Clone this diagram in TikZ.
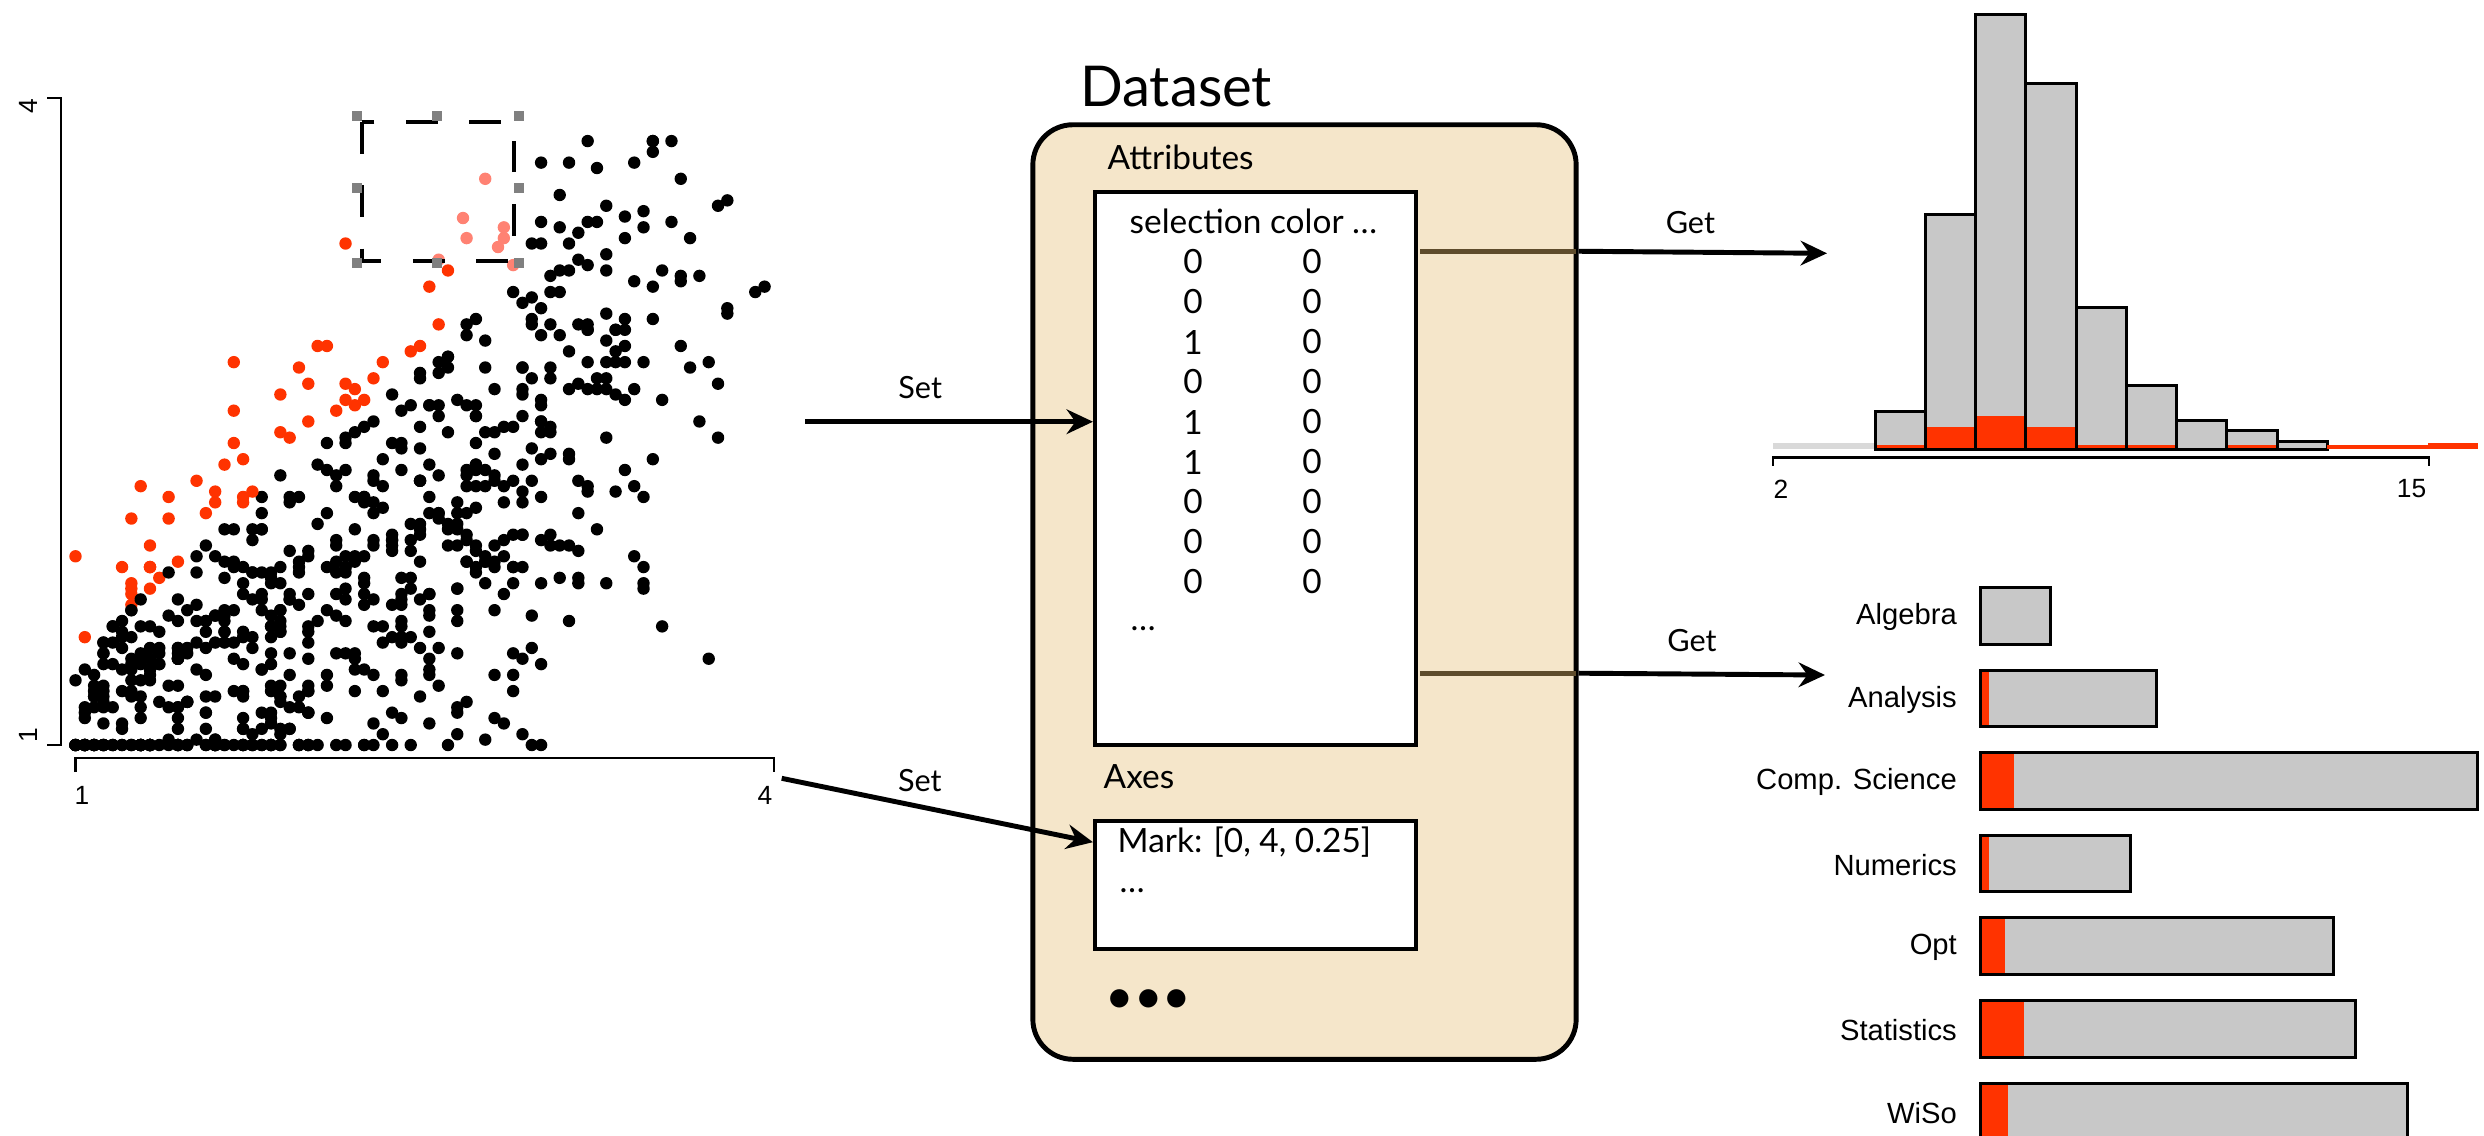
\documentclass[tikz,border=0pt]{standalone}
\usepackage{fontspec}
\setmainfont{Lato}
\newfontfamily\chartfont{Liberation Sans}
\usetikzlibrary{arrows.meta, positioning}

\definecolor{datafill}{RGB}{245,230,202}
\definecolor{brushred}{RGB}{255,51,0}
\definecolor{brushpink}{RGB}{255,130,115}
\definecolor{bargrey}{RGB}{200,200,200}
\definecolor{handlegrey}{RGB}{128,128,128}
\definecolor{getline}{RGB}{94,76,44}

\begin{document}
\begin{tikzpicture}[
    x=0.01cm, y=-0.01cm,
    store/.style={rectangle, draw, line width=1.4pt, rounded corners=0.4cm, fill=datafill, minimum width=5.43cm, minimum height=9.34cm},
    box/.style={rectangle, draw, line width=1.1pt, fill=white, minimum width=3.21cm, inner sep=0pt},
    line/.style={draw, line width=1.4pt, -{Stealth[length=7.5pt, width=7pt, inset=2.5pt]}},
    tag/.style={font=\fontsize{8.7}{10}\selectfont, inner sep=0pt},
    cell/.style={font=\fontsize{9.5}{11}\selectfont, inner sep=0pt},
    tick/.style={font=\chartfont\fontsize{7.5}{9}\selectfont, inner sep=0pt},
    catlabel/.style={font=\chartfont\fontsize{8.3}{10}\selectfont, anchor=east, inner sep=0pt},
    bar/.style={draw, line width=0.85pt}
]
\useasboundingbox (0,0) rectangle (2484,1135);

\draw[line width=0.7pt] (47,98) -- (61,98) -- (61,745) -- (47,745);
\draw[line width=0.7pt] (75.5,772) -- (75.5,758) -- (774,758) -- (774,772);
\node[tick, rotate=90] (ytop) at (28,106) {4};
\node[tick, rotate=90] (ybot) at (28,735) {1};
\node[tick] (xleft) at (82,795) {1};
\node[tick] (xright) at (765,795) {4};

\pgfmathsetseed{20}
\foreach \i in {1,...,760}{
  \pgfmathsetmacro\ux{rnd*(0.62+0.38*rnd)}
  \pgfmathsetmacro\vx{round(25*(1+3*\ux))/25}
  \pgfmathsetmacro\sd{0.3+0.25*min(\vx-1,1)}
  \pgfmathsetmacro\vy{round(40*min(3.8,max(1,1.05+0.68*(\vx-1)+2*\sd*(rnd+rnd+rnd-1.5))))/40}
  \pgfmathtruncatemacro\hit{(\vy>1.42+0.95*(\vx-1))*(\vx<2.9) + (\vx>2.2)*(\vx<2.9)*(\vy>3.22)}
  \ifcase\hit \def\dotcol{black}\or\def\dotcol{brushred}\else\def\dotcol{brushpink}\fi
  \fill[\dotcol] ({75.5+(\vx-1)*232.8},{745-(\vy-1)*215.7}) circle[radius=0.062cm];
}
\fill[brushpink] (463,218) circle[radius=0.062cm];
\fill[brushpink] (498,247) circle[radius=0.062cm];

\draw[line width=1.2pt, dash pattern=on 9pt off 9pt] (362,122) rectangle (514,261);
\foreach \hx/\hy in {357/116, 437/116, 519/116, 357/188, 519/188, 357/263, 437/263, 519/263}
  \fill[handlegrey] (\hx-5,\hy-5) rectangle (\hx+5,\hy+5);

\node[store] (dataset) at (1304.5,592) {};
\node[above right=0.15cm and 0.49cm of dataset.north west, font=\fontsize{16}{18}\selectfont, inner sep=0pt] (title) {Dataset};

\node[box, minimum height=5.53cm] (attr) at (1255.5,468.5) {};
\node[cell, above right=0.19cm and 0.14cm of attr.north west] (attrlabel) {Attributes};
\node[box, minimum height=1.28cm, below=0.72cm of attr] (axes) {};
\node[cell, above right=0.3cm and 0.1cm of axes.north west] (axeslabel) {Axes};

\node[cell, anchor=west] (header) at (1129,221) {selection color \dots};
\foreach \s [count=\r from 0] in {0,0,1,0,1,1,0,0,0} {
  \node[cell] (sel\r) at (1193,{262+40*\r}) {\s};
  \node[cell] (col\r) at (1312,{262+40*\r}) {0};
}
\node[cell, anchor=west] (attrmore) at (1130,629) {\dots};
\node[cell, anchor=west] (mark) at (1117,842) {Mark: [0, 4, 0.25]};
\node[cell, anchor=west] (axesmore) at (1119,891) {\dots};
\node[anchor=west, font=\fontsize{14}{16}\selectfont, inner sep=0pt] (more) at (1105,1001.7) {•••};

\coordinate (scatterout) at (805,421.7);
\coordinate (markout) at (781.7,778.3);
\coordinate (histout) at ([yshift=-0.613cm]attr.north east);
\coordinate (barsout) at ([yshift=-4.83cm]attr.north east);
\coordinate (histin) at (1827,253.3);
\coordinate (barsin) at (1825,675);

\path[line] (scatterout) -- node[tag, pos=0.4, above=0.2cm] {Set} (scatterout -| attr.west);
\path[line] (markout) -- node[tag, pos=0.444, above=0.12cm] {Set} ([yshift=-0.23cm]axes.north west);
\draw[getline, line width=1.4pt, shorten <=0.55pt, shorten >=0.7pt] (histout) -- (histout -| dataset.east);
\draw[getline, line width=1.4pt, shorten <=0.55pt, shorten >=0.7pt] (barsout) -- (barsout -| dataset.east);
\path[line] (histout -| dataset.east) -- node[tag, pos=0.45, above=0.16cm] {Get} (histin);
\path[line] (barsout -| dataset.east) -- node[tag, pos=0.46, above=0.2cm] {Get} (barsin);

\fill[black!15] (1773,442.5) rectangle (1875,449.4);
\foreach \top/\sel [count=\k from 0] in {411.5/445, 214/427, 14.5/416, 83/427, 307.5/445, 385/445, 420/449.4, 430/445, 441/449.4} {
  \fill[bargrey] ({1875+50.25*\k},449.4) rectangle ({1925.25+50.25*\k},\top);
  \fill[brushred] ({1875+50.25*\k},449.4) rectangle ({1925.25+50.25*\k},\sel);
  \draw[bar] ({1875+50.25*\k},449.4) rectangle ({1925.25+50.25*\k},\top);
}
\fill[brushred] (2327,445) rectangle (2428,449.4);
\fill[brushred] (2428,442.5) rectangle (2478,449.4);
\draw[line width=0.7pt] (1773,465.5) -- (1773,457.3) -- (2429,457.3) -- (2429,465.5);
\node[tick] (hleft) at (1781,489) {2};
\node[tick] (hright) at (2411.5,489) {15};

\foreach \name/\len/\sel [count=\k from 0] in {Algebra/2050/1980, Analysis/2156.5/1989, Comp. Science/2477.5/2013.5, Numerics/2130/1989, Opt/2333.5/2005, Statistics/2355/2024, WiSo/2407.5/2007.5} {
  \fill[bargrey] (1980,{587.5+82.6*\k}) rectangle (\len,{644.1+82.6*\k});
  \fill[brushred] (1980,{587.5+82.6*\k}) rectangle (\sel,{644.1+82.6*\k});
  \draw[bar] (1980,{587.5+82.6*\k}) rectangle (\len,{644.1+82.6*\k});
  \node[catlabel] (cat\k) at (1957.5,{617+82.6*\k}) {\name};
}
\end{tikzpicture}
\end{document}
